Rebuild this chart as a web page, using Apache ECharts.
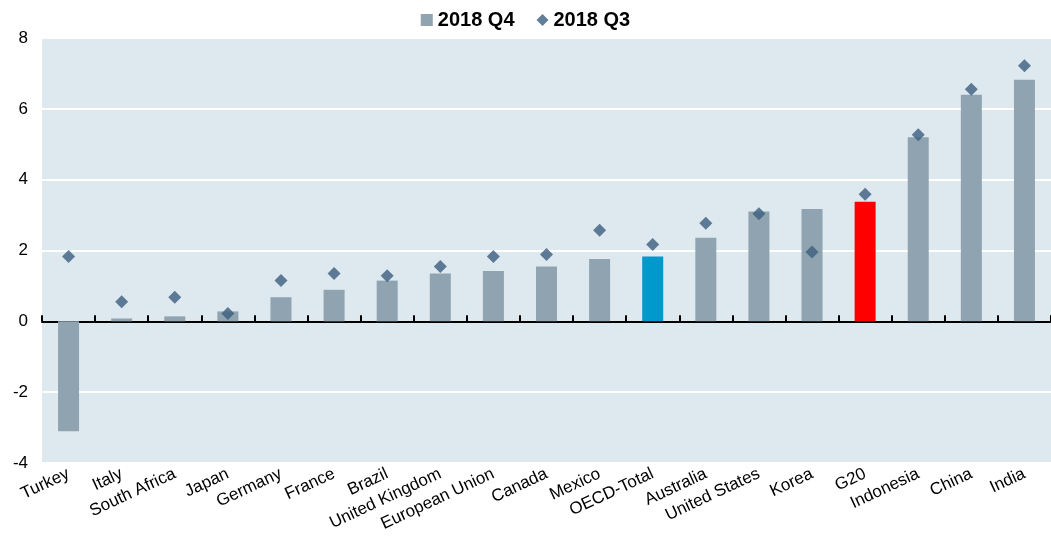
<!DOCTYPE html>
<html>
<head>
<meta charset="utf-8">
<script src="https://cdn.jsdelivr.net/npm/echarts@6/dist/echarts.min.js"></script>
<style>
html,body{margin:0;padding:0;background:#fff;}
#chart{width:1051px;height:550px;}
</style>
</head>
<body>
<div id="chart"></div>
<script>
var categories = ["Turkey","Italy","South Africa","Japan","Germany","France","Brazil","United Kingdom","European Union","Canada","Mexico","OECD-Total","Australia","United States","Korea","G20","Indonesia","China","India"];
var q4Values = [-3.10,0.08,0.14,0.28,0.68,0.89,1.15,1.35,1.42,1.55,1.76,1.83,2.36,3.10,3.17,3.38,5.20,6.40,6.82];
var q3Values = [1.83,0.55,0.68,0.22,1.15,1.35,1.29,1.55,1.83,1.89,2.57,2.17,2.77,3.04,1.96,3.59,5.27,6.55,7.22];
var yTicks = { min: -4, max: 8, interval: 2 };

var highlight = { "OECD-Total": "#0099CC", "G20": "#FF0000" };
var barColor = "#8FA4B0";
var dotColor = "#3B5E7E";

var chart = echarts.init(document.getElementById('chart'));
chart.setOption({
  animation: false,
  textStyle: { fontFamily: "Liberation Sans, Arial, sans-serif" },
  legend: {
    top: 5,
    left: 'center',
    itemGap: 22,
    itemWidth: 12,
    itemHeight: 12,
    textStyle: { fontSize: 20, fontWeight: 'bold', color: '#000' },
    data: [
      { name: '2018 Q4', icon: 'rect', itemStyle: { color: barColor } },
      { name: '2018 Q3', icon: 'diamond', itemStyle: { color: dotColor } }
    ]
  },
  grid: {
    left: 42, right: 0, top: 38, bottom: 87,
    show: true, backgroundColor: '#DEE8EF', borderWidth: 0
  },
  xAxis: [
    {
      type: 'category',
      data: categories,
      axisLine: { onZero: true, lineStyle: { color: '#000', width: 2 } },
      axisTick: { show: true, inside: true, length: 6, interval: 0, alignWithLabel: false, lineStyle: { color: '#000', width: 2 } },
      axisLabel: { show: false },
      splitLine: { show: false }
    },
    {
      type: 'category',
      data: categories,
      position: 'bottom',
      axisLine: { show: false, onZero: false },
      axisTick: { show: false },
      axisLabel: { show: true, rotate: 25, fontSize: 17, color: '#000', margin: 10, interval: 0 },
      splitLine: { show: false }
    }
  ],
  yAxis: {
    type: 'value',
    min: yTicks.min, max: yTicks.max, interval: yTicks.interval,
    axisLine: { show: false },
    axisTick: { show: false },
    axisLabel: { fontSize: 17, color: '#000', margin: 14 },
    splitLine: { show: true, lineStyle: { color: '#FFFFFF', width: 2 } }
  },
  series: [
    {
      name: '2018 Q4',
      type: 'bar',
      xAxisIndex: 0,
      barWidth: 21,
      data: q4Values.map(function (v, i) {
        var c = highlight[categories[i]] || barColor;
        return { value: v, itemStyle: { color: c } };
      }),
      z: 2
    },
    {
      name: '2018 Q3',
      type: 'scatter',
      xAxisIndex: 0,
      symbol: 'diamond',
      symbolSize: 13,
      itemStyle: { color: dotColor },
      data: q3Values,
      z: 3
    }
  ]
});
</script>
</body>
</html>
